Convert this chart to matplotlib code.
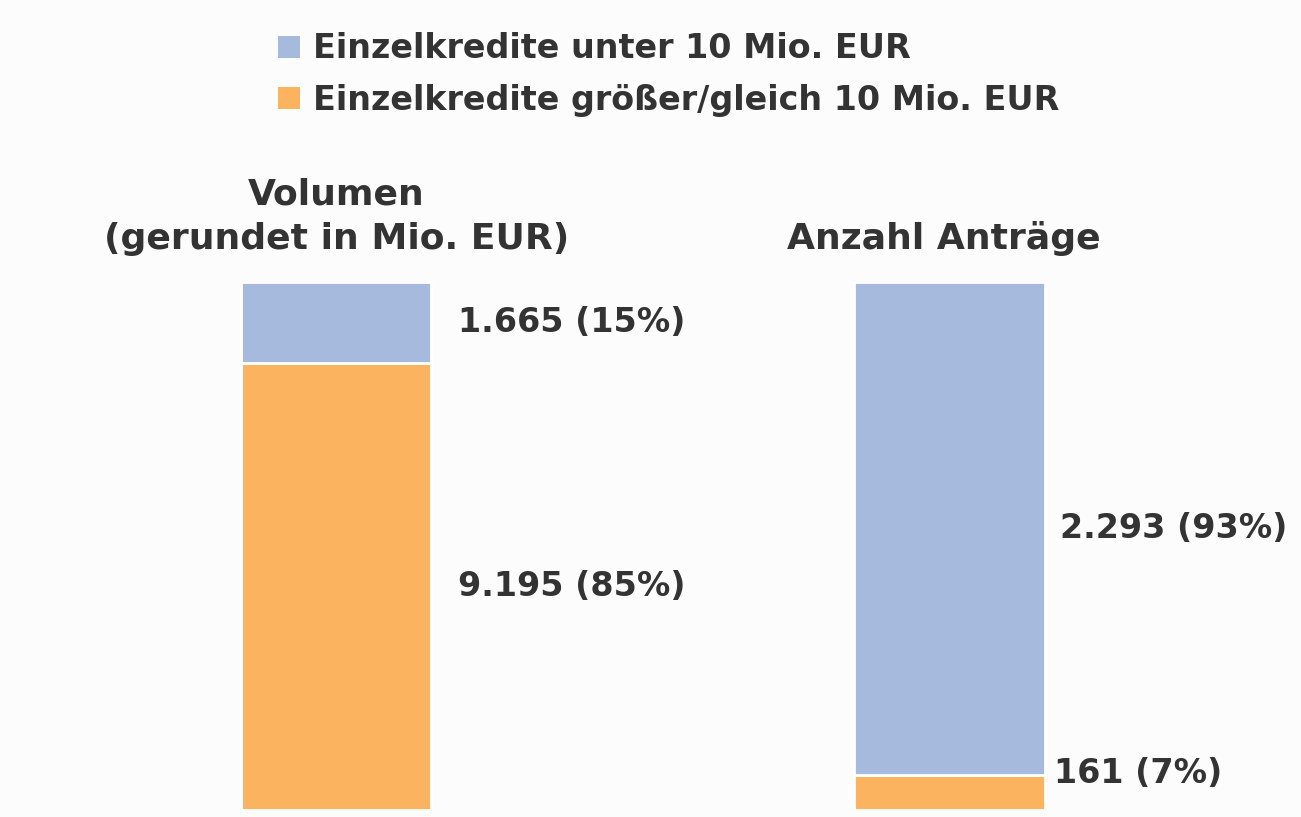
import matplotlib.pyplot as plt
from matplotlib.patches import Patch

# data
groups = ["Volumen\n(gerundet in Mio. EUR)", "Anzahl Anträge"]
series_names = ["Einzelkredite unter 10 Mio. EUR",
                "Einzelkredite größer/gleich 10 Mio. EUR"]
small_loans = [1665, 2293]
large_loans = [9195, 161]
small_labels = ["1.665 (15%)", "2.293 (93%)"]
large_labels = ["9.195 (85%)", "161 (7%)"]

blue = "#A6BADD"
orange = "#FBB360"
txt = "#333333"
fs = 24

plt.rcParams['font.family'] = ['DejaVu Sans']

fig = plt.figure(figsize=(13.01, 8.17), dpi=100, facecolor="#FCFCFC")
ax = fig.add_axes([0, 0.0086, 1, 0.6462])
ax.set_facecolor("#FCFCFC")

x = [0, 1]
share_large = [l / (s + l) for s, l in zip(small_loans, large_loans)]
share_small = [s / (s + l) for s, l in zip(small_loans, large_loans)]

ax.bar(x, share_large, width=0.31, color=orange, edgecolor="white", linewidth=2)
ax.bar(x, share_small, bottom=share_large, width=0.31, color=blue,
       edgecolor="white", linewidth=2)

ax.set_xlim(-0.548, 1.573)
ax.set_ylim(0, 1)
ax.axis("off")

# value labels to the right of each bar
lab_x = [0.198, 1.18]
for i in range(2):
    ax.text(lab_x[i], share_large[i] + share_small[i] / 2, small_labels[i],
            fontsize=fs, fontweight="bold", color=txt, va="center", ha="left")
lab_y_large = [share_large[0] / 2, 0.07]
lab_x_large = [0.198, 1.17]
for i in range(2):
    ax.text(lab_x_large[i], lab_y_large[i], large_labels[i],
            fontsize=fs, fontweight="bold", color=txt, va="center", ha="left")

# group titles above bars
ax.text(0, 1.05, groups[0], fontsize=26, fontweight="bold", color=txt,
        ha="center", va="bottom", linespacing=1.38, clip_on=False)
ax.text(0.99, 1.05, groups[1], fontsize=26, fontweight="bold", color=txt,
        ha="center", va="bottom", clip_on=False)

handles = [Patch(facecolor=blue), Patch(facecolor=orange)]
leg = fig.legend(handles, series_names, loc="upper left",
                 bbox_to_anchor=(0.191, 0.997), frameon=False,
                 fontsize=fs, handlelength=0.65, handleheight=0.65,
                 handletextpad=0.4, labelspacing=0.55)
for t in leg.get_texts():
    t.set_color(txt)
    t.set_fontweight("bold")

fig.savefig("out.png", dpi=100, facecolor=fig.get_facecolor())
